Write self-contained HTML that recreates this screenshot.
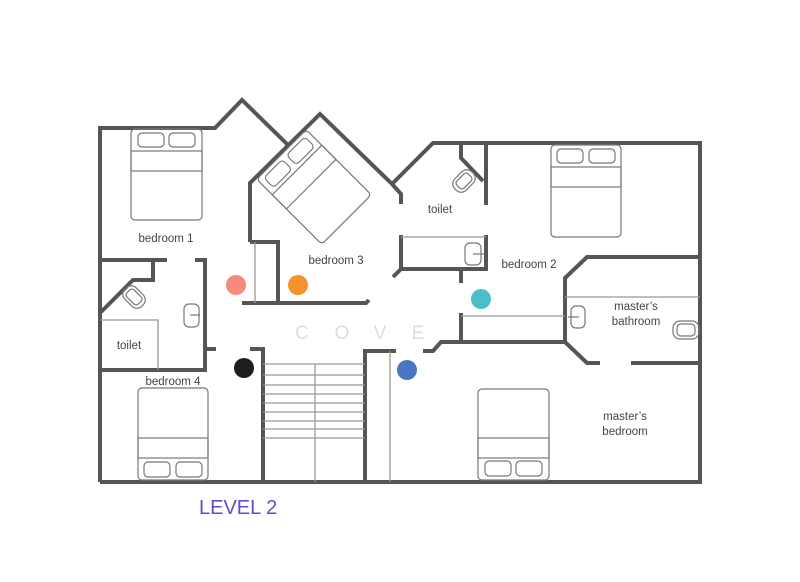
<!DOCTYPE html>
<html><head><meta charset="utf-8"><style>
html,body{margin:0;padding:0;background:#fff;}
svg{display:block;font-family:"Liberation Sans",sans-serif;}
.w{stroke:#555;stroke-width:4;fill:none;stroke-linecap:butt;stroke-linejoin:miter;}
.t{stroke:#999;stroke-width:1.3;fill:none;}
.b{stroke:#777;stroke-width:1.2;fill:none;}
.l{font-size:11.5px;fill:#444;text-anchor:middle;}
.c{font-size:19px;fill:#ddd;text-anchor:middle;}
</style></head><body>
<svg width="800" height="582" viewBox="0 0 800 582">
<!-- outer walls -->
<path class="w" d="M100,482 V128 H215 L242,100 L289,146"/>
<path class="w" d="M250,242 V183 L320,114 L392,184 L401,194 V204"/>
<path class="w" d="M392,184 L433,143 H700 V482 H100"/>
<path class="w" d="M250,242 H278 V303"/>
<path class="w" d="M242,303 H366 L369,300"/>
<line class="t" x1="255" y1="242" x2="255" y2="303"/>
<!-- toilet top -->
<path class="w" d="M461,143 V158 L483,181"/>
<path class="w" d="M486,143 V205"/>
<path class="w" d="M401,235 V269 H486 V235"/>
<line class="t" x1="401" y1="237" x2="486" y2="237"/>
<path class="w" d="M401,269 L393,277"/>
<path class="w" d="M461,270 V283"/>
<path class="w" d="M461,313 V342"/>
<path class="w" d="M423,351 H433 L441,342 H565 V278 L587,257 H700"/>
<line class="t" x1="461" y1="316" x2="565" y2="316"/>
<line class="t" x1="565" y1="297" x2="700" y2="297"/>
<path class="w" d="M565,342 L587,363 H600"/>
<path class="w" d="M631,363 H700"/>
<!-- left side -->
<path class="w" d="M100,260 H167"/>
<path class="w" d="M195,260 H205 V370 H100"/>
<path class="w" d="M205,349 H216"/>
<path class="w" d="M153,260 V280 H133 L101,312"/>
<path class="t" d="M100,320 H158 V370"/>
<!-- stairs -->
<path class="w" d="M250,349 H263 V482"/>
<path class="w" d="M396,351 H365 V482"/>
<line class="t" x1="390" y1="351" x2="390" y2="482"/>
<line class="t" x1="315" y1="364" x2="315" y2="482"/>
<g class="t">
<line x1="263" y1="364" x2="365" y2="364"/><line x1="263" y1="375" x2="365" y2="375"/>
<line x1="263" y1="385" x2="365" y2="385"/><line x1="263" y1="394" x2="365" y2="394"/>
<line x1="263" y1="403" x2="365" y2="403"/><line x1="263" y1="412" x2="365" y2="412"/>
<line x1="263" y1="421" x2="365" y2="421"/><line x1="263" y1="429" x2="365" y2="429"/>
<line x1="263" y1="438" x2="365" y2="438"/>
</g>
<!-- beds -->
<g class="b">
<rect x="131" y="129" width="71" height="91" rx="4"/><rect x="131" y="151" width="71" height="20"/>
<rect x="138" y="133" width="26" height="14" rx="4"/><rect x="169" y="133" width="26" height="14" rx="4"/>
<rect x="551" y="145" width="70" height="92" rx="4"/><rect x="551" y="167" width="70" height="20"/>
<rect x="557" y="149" width="26" height="14" rx="4"/><rect x="589" y="149" width="26" height="14" rx="4"/>
<rect x="138" y="388" width="70" height="92" rx="4"/><rect x="138" y="438" width="70" height="20"/>
<rect x="144" y="462" width="26" height="15" rx="4"/><rect x="176" y="462" width="26" height="15" rx="4"/>
<rect x="478" y="389" width="71" height="91" rx="4"/><rect x="478" y="438" width="71" height="20"/>
<rect x="485" y="461" width="26" height="15" rx="4"/><rect x="516" y="461" width="26" height="15" rx="4"/>
<g transform="translate(314,187) rotate(-45)">
<rect x="-35" y="-46" width="70" height="92" rx="4"/><rect x="-35" y="-24" width="70" height="20"/>
<rect x="-29" y="-42" width="26" height="14" rx="4"/><rect x="3" y="-42" width="26" height="14" rx="4"/>
</g>
<!-- fixtures -->
<rect x="465" y="243" width="16" height="22" rx="5"/><line x1="473" y1="254" x2="484" y2="254"/>
<rect x="571" y="306" width="14" height="22" rx="5"/><line x1="568" y1="317" x2="579" y2="317"/>
<rect x="184" y="304" width="15" height="23" rx="5"/><line x1="190" y1="315" x2="200" y2="315"/>
<rect x="673" y="321" width="26" height="18" rx="7"/><rect x="677" y="324" width="18" height="12" rx="4"/>
<g transform="translate(464,181) rotate(-45)"><rect x="-12" y="-8" width="24" height="16" rx="7"/><rect x="-8" y="-5" width="16" height="10" rx="3"/></g>
<g transform="translate(134,297) rotate(45)"><rect x="-12" y="-8" width="24" height="16" rx="7"/><rect x="-8" y="-5" width="16" height="10" rx="3"/></g>
</g>
<!-- COVE -->
<text class="c" x="302" y="339">C</text><text class="c" x="342" y="339">O</text>
<text class="c" x="380" y="339">V</text><text class="c" x="418" y="339">E</text>
<!-- dots -->
<circle cx="236" cy="285" r="10" fill="#f78a7c"/>
<circle cx="298" cy="285" r="10" fill="#f5922e"/>
<circle cx="481" cy="299" r="10" fill="#4bbfc9"/>
<circle cx="244" cy="368" r="10" fill="#1e1e1e"/>
<circle cx="407" cy="370" r="10" fill="#4a78c0"/>
<!-- labels -->
<text class="l" x="166" y="242">bedroom 1</text>
<text class="l" x="336" y="264">bedroom 3</text>
<text class="l" x="440" y="213">toilet</text>
<text class="l" x="529" y="268">bedroom 2</text>
<text class="l" x="636" y="310">master’s</text>
<text class="l" x="636" y="325">bathroom</text>
<text class="l" x="129" y="349">toilet</text>
<text class="l" x="173" y="385">bedroom 4</text>
<text class="l" x="625" y="420">master’s</text>
<text class="l" x="625" y="435">bedroom</text>
<text x="199" y="514" font-size="20" fill="#5b4fcf">LEVEL 2</text>
</svg>
</body></html>
